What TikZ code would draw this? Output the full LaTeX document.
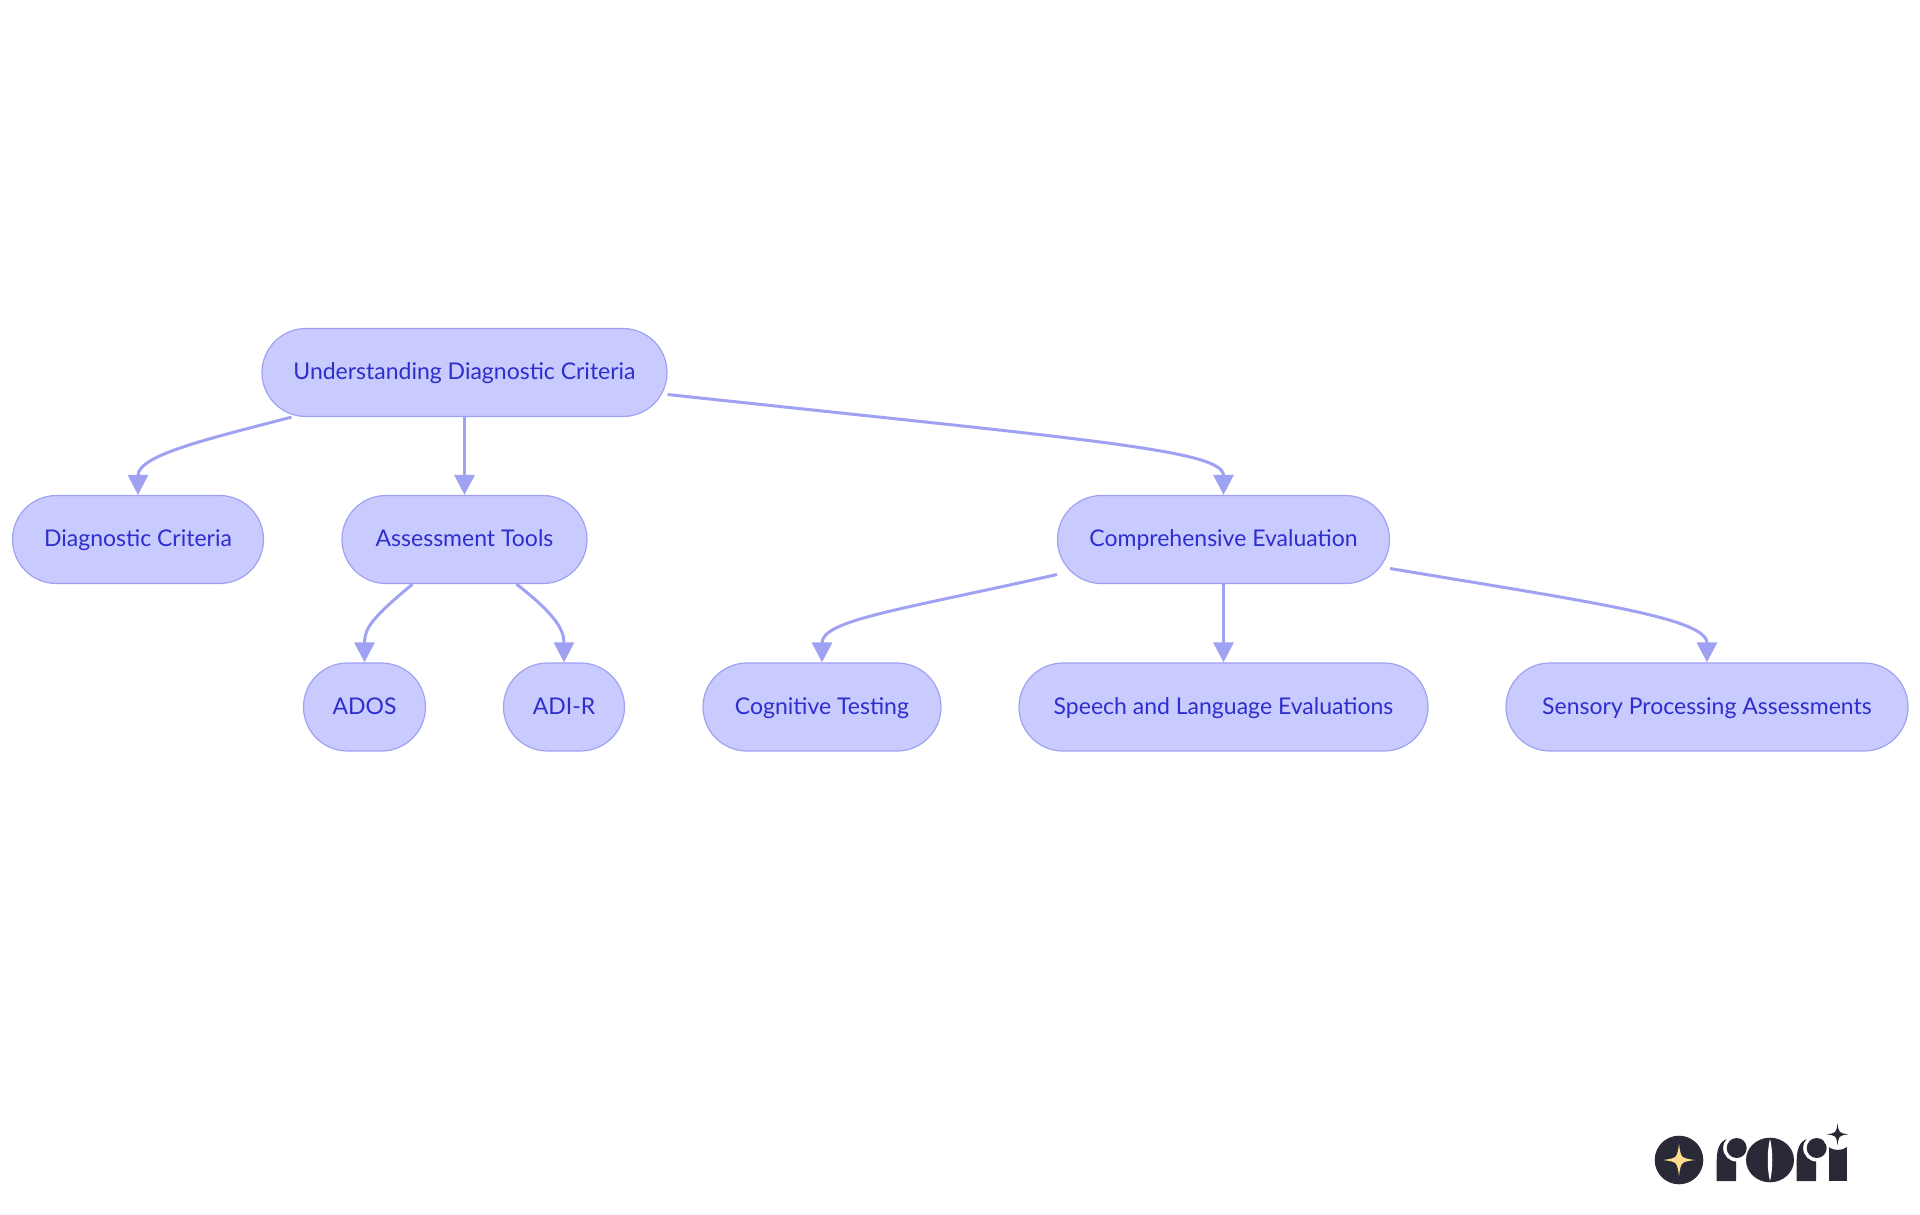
\documentclass[tikz,border=0pt]{standalone}
\usepackage{fontspec}
\setmainfont{Lato}
\usetikzlibrary{arrows.meta,calc,shapes.misc}
\definecolor{nodefill}{HTML}{C9CAFE}
\definecolor{nodeline}{HTML}{9FA2F2}
\definecolor{nodetext}{HTML}{2E2ECC}
\definecolor{logodark}{HTML}{2A2937}
\definecolor{logostar}{HTML}{FFDD8C}
\tikzset{
	pill/.style={draw=nodeline, fill=nodefill, text=nodetext, line width=1.2pt, rounded rectangle, minimum height=88pt, inner sep=0pt, text height=19pt, text depth=4.5pt, font=\fontsize{23}{27}\selectfont},
	flow/.style={draw=nodeline, line width=3pt, -{Triangle[length=20pt,width=20pt]}}
}
\def\sparkle(#1)(#2)[#3]{\fill[#3] ($(#1)+(0,-#2)$) .. controls ($(#1)+(0.12*#2,-0.12*#2)$) .. ($(#1)+(#2,0)$) .. controls ($(#1)+(0.12*#2,0.12*#2)$) .. ($(#1)+(0,#2)$) .. controls ($(#1)+(-0.12*#2,0.12*#2)$) .. ($(#1)+(-#2,0)$) .. controls ($(#1)+(-0.12*#2,-0.12*#2)$) .. cycle;}
\def\logor(#1){
	\fill[logodark] (#1, 1181) -- (#1, 1160) .. controls (#1, 1146) and ($(#1, 1138)+(5, 0)$) .. ($(#1, 1138)+(16, 0)$) -- ($(#1, 1138)+(19.3, 0)$) -- ($(#1, 1181)+(19.3, 0)$) -- cycle;
	\fill[white] ($(#1, 1148)+(20, 0)$) circle (13.5);
	\fill[logodark] ($(#1, 1148)+(20, 0)$) circle (10);
}

\begin{document}
\begin{tikzpicture}[x=1pt, y=-1pt]
		%%%%% START %%%%%
		\useasboundingbox (0, 0) rectangle (1920, 1215);
		
		\node[pill, minimum width=405pt] (root) at (464.5, 372.5) {Understanding Diagnostic Criteria};
		
		\node[pill, minimum width=251pt] (diag) at (138, 539.5) {Diagnostic Criteria};
		\node[pill, minimum width=245pt] (tools) at (464.5, 539.5) {Assessment Tools};
		\node[pill, minimum width=332pt] (eval) at (1223.5, 539.5) {Comprehensive Evaluation};
		
		\node[pill, minimum width=122pt] (ados) at (364.5, 707) {ADOS};
		\node[pill, minimum width=121pt] (adir) at (564, 707) {ADI-R};
		\node[pill, minimum width=238pt] (cog) at (822, 707) {Cognitive Testing};
		\node[pill, minimum width=409pt] (speech) at (1223.5, 707) {Speech and Language Evaluations};
		\node[pill, minimum width=402pt] (sensory) at (1707, 707) {Sensory Processing Assessments};
		
		\draw[flow] ([xshift=-173pt]root.south) .. controls (208, 439) and (138, 455) .. (diag.north);
		\draw[flow] (root.south) -- (tools.north);
		\draw[flow] ([yshift=-22pt]root.east) .. controls (1090, 440) and (1223.5, 450) .. (eval.north);
		
		\draw[flow] ([xshift=-52pt]tools.south) .. controls (372, 618) and (364.5, 628) .. (ados.north);
		\draw[flow] ([xshift=52pt]tools.south) .. controls (556, 615) and (564, 630) .. (adir.north);
		
		\draw[flow] ([yshift=-35pt]eval.west) .. controls (900, 610) and (822, 620) .. (cog.north);
		\draw[flow] (eval.south) -- (speech.north);
		\draw[flow] ([yshift=-29pt]eval.east) .. controls (1590, 602) and (1707, 618) .. (sensory.north);
		
		% logo
		\fill[logodark] (1679, 1160) circle (24.3);
		\sparkle(1679, 1160)(16)[logostar]
		\logor(1716.7)
		\logor(1796.7)
		\fill[logodark] (1770, 1160) ellipse (24 and 22.3);
		\fill[white] (1770, 1139) .. controls (1767, 1150) and (1767, 1170) .. (1770, 1181) .. controls (1773, 1170) and (1773, 1150) .. cycle;
		\fill[logodark] (1829, 1146) rectangle (1846.7, 1181);
		\fill[white] (1837.8, 1134.3) circle (15.5);
		\sparkle(1837.5, 1134.3)(11)[logodark]
		%%%%% END %%%%%
	\end{tikzpicture}
\end{document}
